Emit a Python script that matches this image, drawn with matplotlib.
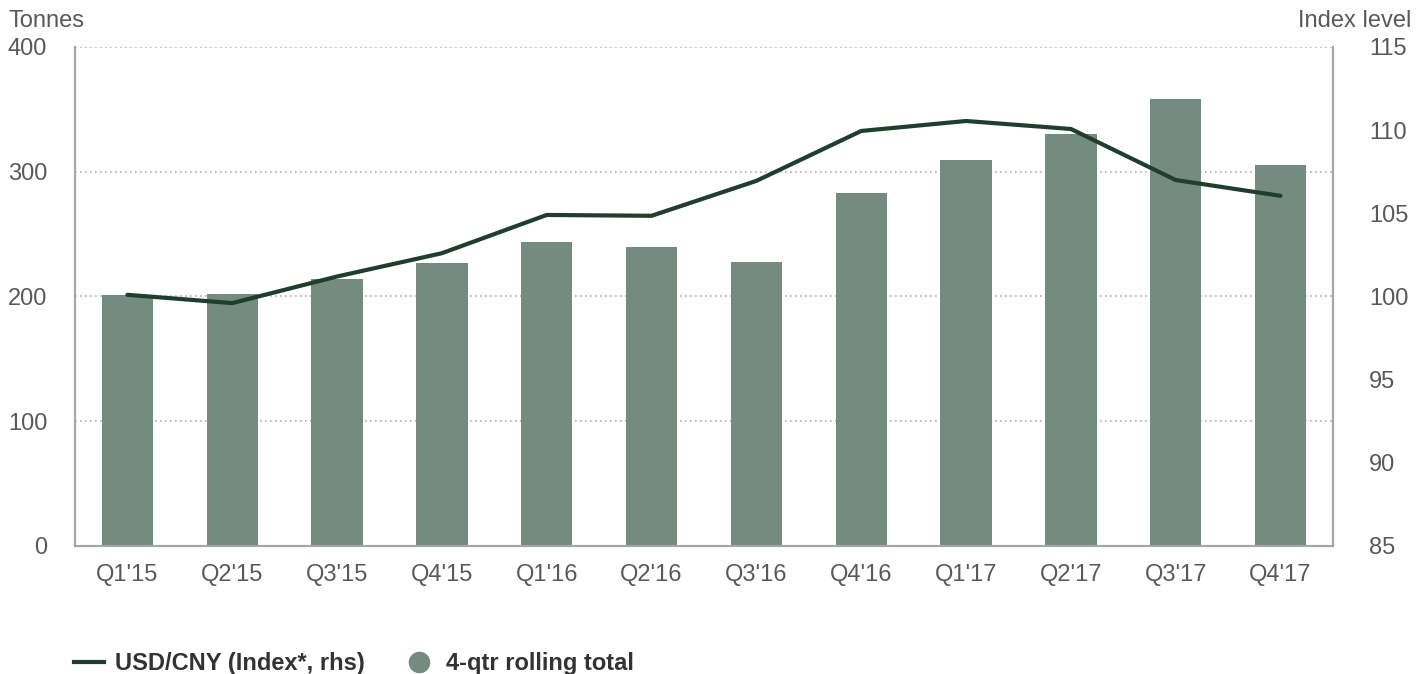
import matplotlib
matplotlib.use('Agg')
import matplotlib.pyplot as plt
from matplotlib.lines import Line2D

plt.rcParams['font.family'] = ['Liberation Sans', 'DejaVu Sans']

quarters = ["Q1'15", "Q2'15", "Q3'15", "Q4'15", "Q1'16", "Q2'16",
            "Q3'16", "Q4'16", "Q1'17", "Q2'17", "Q3'17", "Q4'17"]
rolling_total = [201, 202, 214, 227, 244, 240, 228, 283, 309, 330, 358, 305]
usd_cny = [100.1, 99.6, 101.2, 102.6, 104.9, 104.85, 106.95, 109.95, 110.55, 110.07, 107.0, 106.05]

bar_color = '#738c7f'
line_color = '#1f3f2c'
grey = '#595959'
spine_grey = '#a6a6a6'
fs = 17

fig = plt.figure(figsize=(14.17, 6.74), dpi=100)
ax = fig.add_axes([0.0529, 0.19, 0.8878, 0.7403])
ax2 = ax.twinx()

x = list(range(len(quarters)))
ax.bar(x, rolling_total, width=0.49, color=bar_color, zorder=2)
ax.set_xlim(-0.5, len(quarters) - 0.5)
ax.set_ylim(0, 400)
ax.set_yticks([0, 100, 200, 300, 400])
ax.yaxis.grid(True, linestyle=(0, (1, 2)), color='#b0b0b0', linewidth=1.2, zorder=0)
ax.set_axisbelow(True)
ax.set_xticks(x)
ax.set_xticklabels(quarters)

ax2.plot(x, usd_cny, color=line_color, linewidth=3, solid_capstyle='round', zorder=3)
ax2.set_ylim(85, 115)
ax2.set_yticks([85, 90, 95, 100, 105, 110, 115])

for a in (ax, ax2):
    a.spines['top'].set_visible(False)
    for s in ('left', 'right', 'bottom'):
        a.spines[s].set_color(spine_grey)
        a.spines[s].set_linewidth(1.5)
    a.tick_params(length=0, labelsize=fs, colors=grey)
ax.tick_params(axis='x', pad=13)
ax.tick_params(axis='y', pad=20)
ax2.tick_params(axis='y', pad=26)

fig.text(0.006, 0.953, 'Tonnes', fontsize=fs, color=grey, ha='left', va='bottom')
fig.text(0.996, 0.953, 'Index level', fontsize=fs, color=grey, ha='right', va='bottom')

handles = [
    Line2D([0], [0], color=line_color, linewidth=3),
    Line2D([0], [0], marker='o', linestyle='', markersize=14.5,
           markerfacecolor=bar_color, markeredgecolor=bar_color),
]
labels = ['USD/CNY (Index*, rhs)', '4-qtr rolling total']
leg = fig.legend(handles, labels, loc='center left', bbox_to_anchor=(0.037, 0.015),
                 ncol=2, frameon=False, handlelength=1.27, columnspacing=1.65,
                 handletextpad=0.5, prop={'weight': 'bold', 'size': fs})
for t in leg.get_texts():
    t.set_color('#333333')

fig.savefig('out.png', dpi=100)
